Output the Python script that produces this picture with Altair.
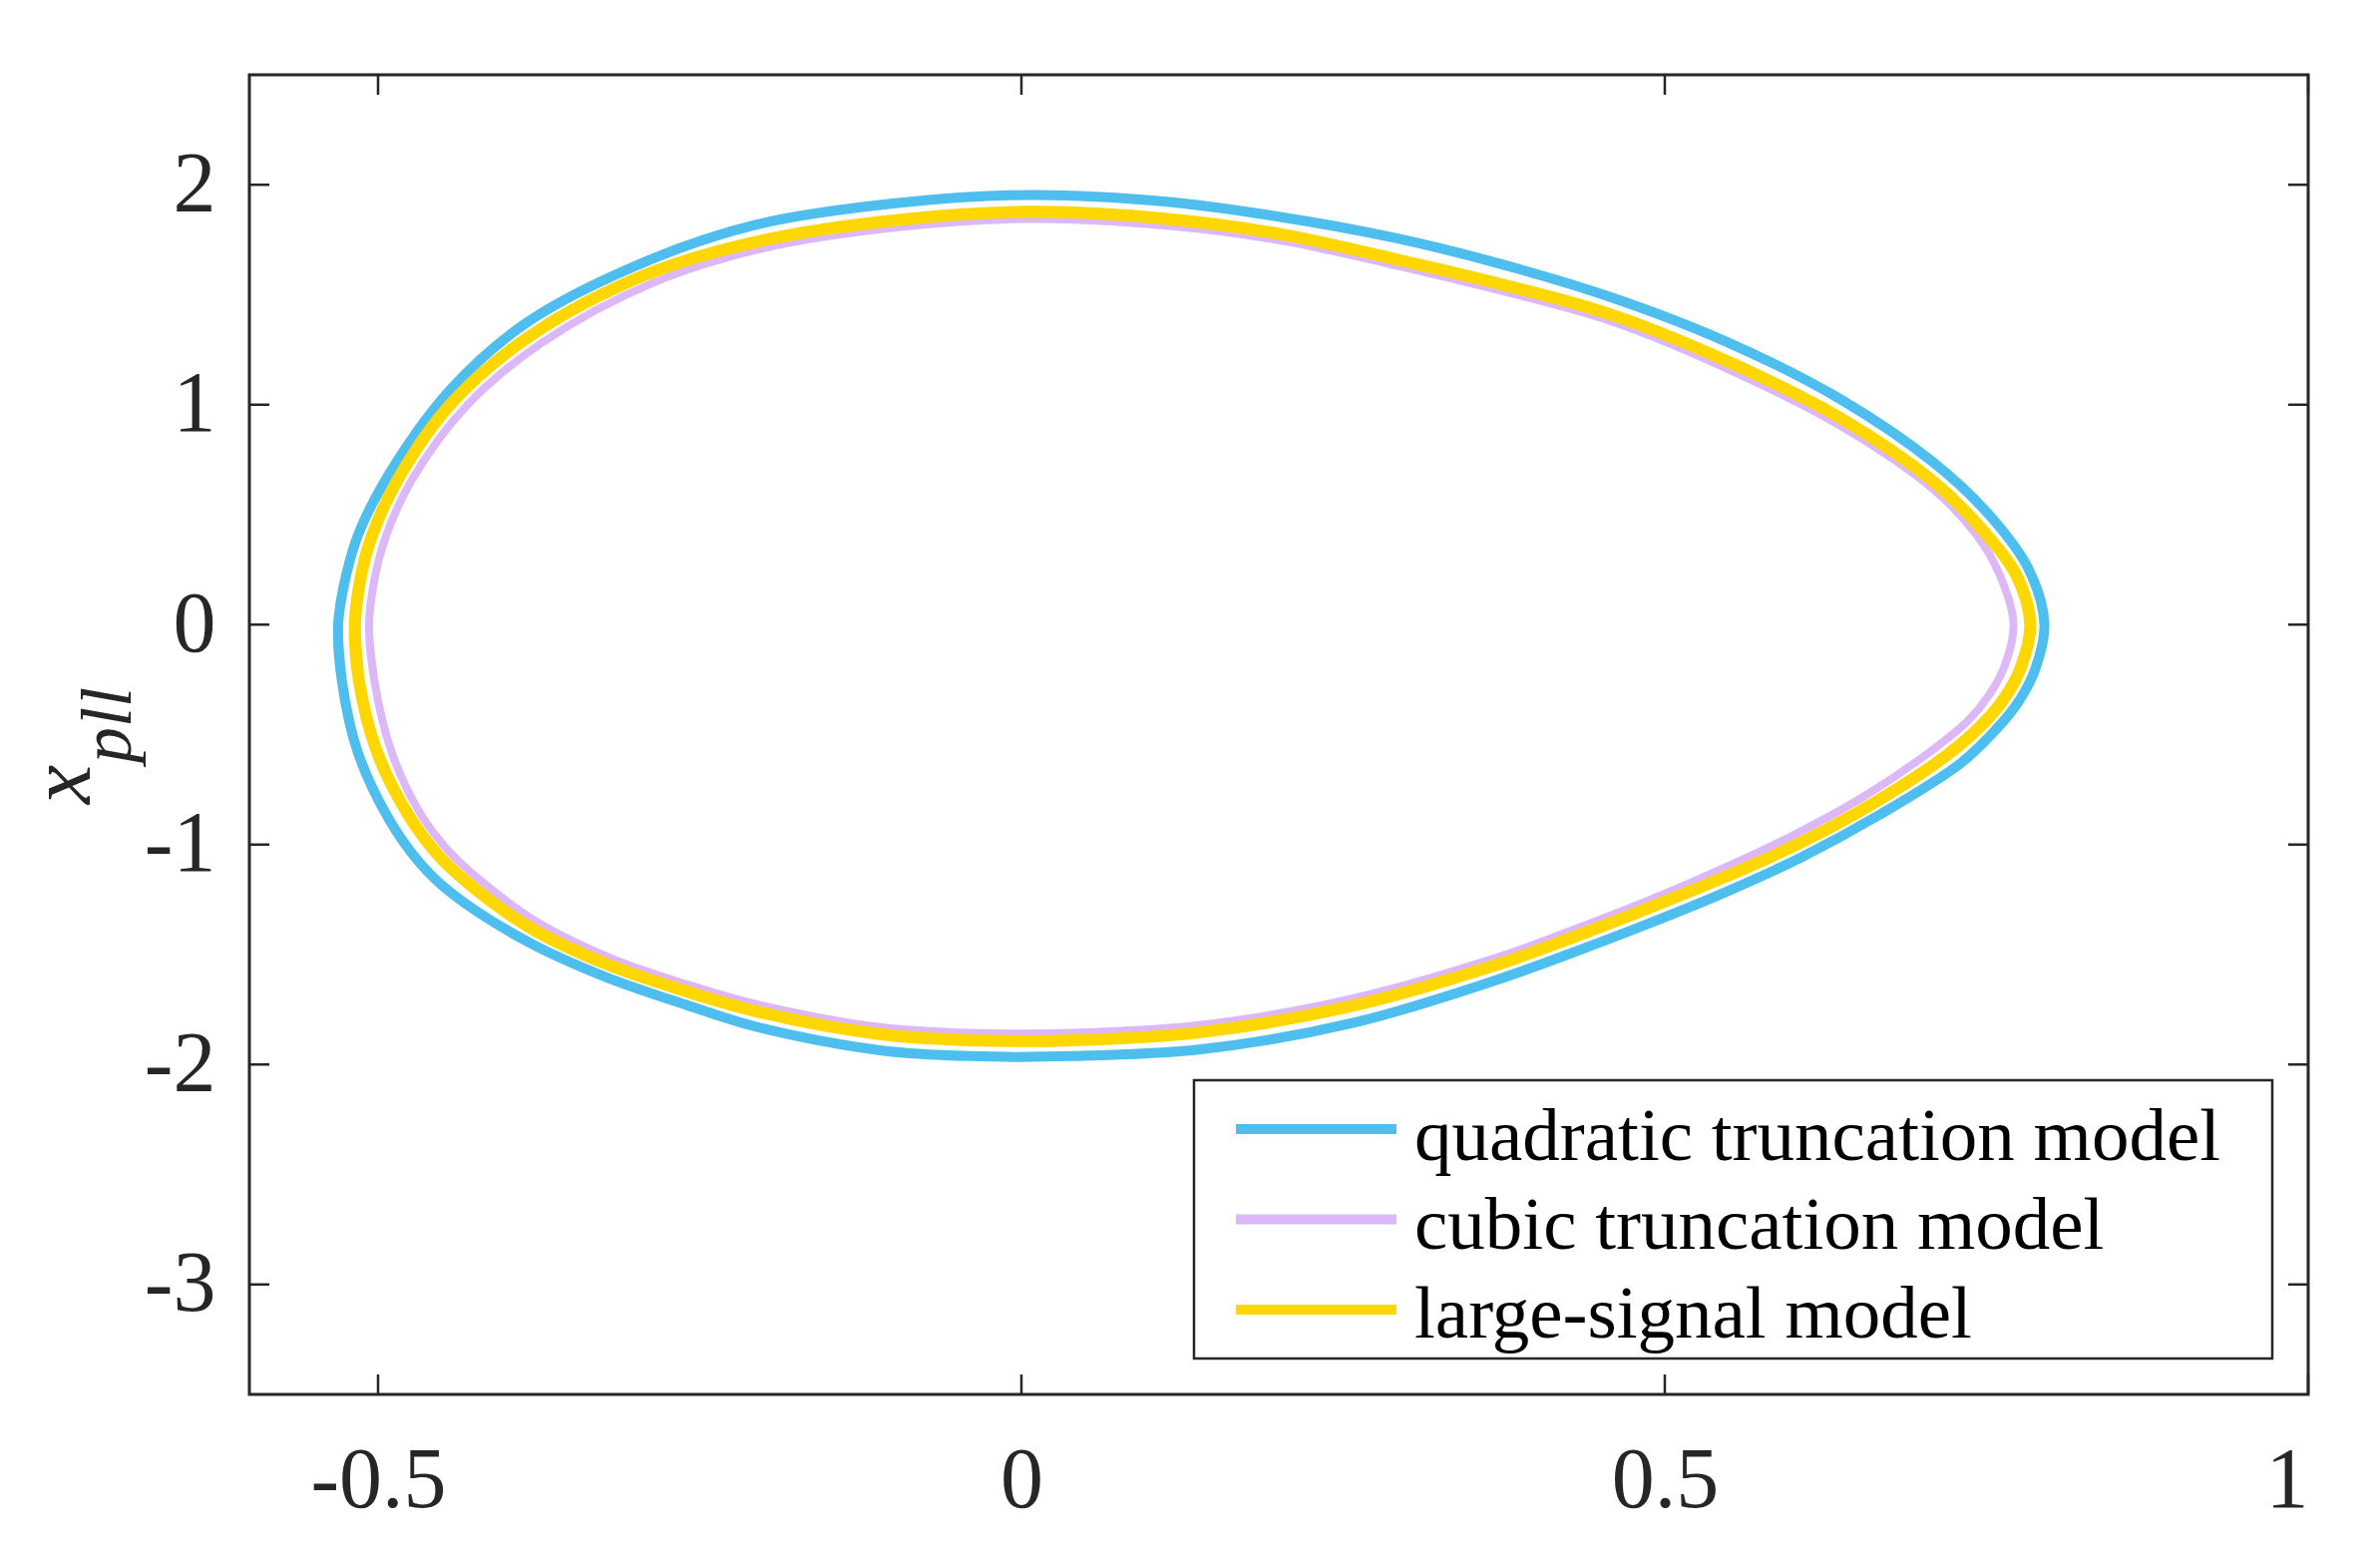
import altair as alt
import pandas as pd

# ---- data (closed loops, clockwise from the left end) ----
quad_x = [-0.531, -0.525, -0.514, -0.486, -0.442, -0.383, -0.294, -0.205, -0.096, 0.008,
          0.111, 0.200, 0.289, 0.368, 0.457, 0.546, 0.635, 0.709, 0.753, 0.783,
          0.795, 0.788, 0.776, 0.760, 0.730, 0.665, 0.605, 0.546, 0.487, 0.428, 0.368,
          0.259, 0.141, 0.040, -0.040, -0.110, -0.205, -0.264, -0.324, -0.383, -0.442,
          -0.468, -0.492, -0.516, -0.528]
quad_y = [0.000, 0.220, 0.430, 0.736, 1.080, 1.379, 1.646, 1.820, 1.917, 1.954,
          1.924, 1.855, 1.760, 1.647, 1.491, 1.291, 1.030, 0.736, 0.493, 0.249,
          0.000, -0.200, -0.340, -0.460, -0.630, -0.871, -1.061, -1.219, -1.360, -1.492, -1.618,
          -1.809, -1.930, -1.962, -1.962, -1.935, -1.830, -1.722, -1.600, -1.444, -1.225,
          -1.080, -0.880, -0.576, -0.260]

cubic_x = [-0.507, -0.503, -0.494, -0.474, -0.432, -0.373, -0.286, -0.200, -0.094, 0.008,
           0.111, 0.200, 0.289, 0.368, 0.457, 0.546, 0.635, 0.709, 0.742, 0.760,
           0.771, 0.764, 0.752, 0.736, 0.708, 0.655, 0.597, 0.540, 0.483, 0.425, 0.365,
           0.257, 0.140, 0.040, -0.040, -0.110, -0.203, -0.262, -0.321, -0.378, -0.420,
           -0.445, -0.468, -0.490, -0.503]
cubic_y = [0.000, 0.200, 0.400, 0.655, 0.990, 1.280, 1.555, 1.712, 1.808, 1.845,
           1.815, 1.748, 1.636, 1.525, 1.382, 1.170, 0.909, 0.614, 0.410, 0.230,
           0.000, -0.190, -0.320, -0.435, -0.570, -0.780, -0.966, -1.122, -1.264, -1.396, -1.522,
           -1.700, -1.820, -1.856, -1.856, -1.830, -1.730, -1.632, -1.512, -1.347, -1.165,
           -1.030, -0.850, -0.570, -0.250]

large_x = [-0.518, -0.514, -0.505, -0.484, -0.442, -0.383, -0.294, -0.205, -0.096, 0.008,
           0.111, 0.200, 0.289, 0.368, 0.457, 0.546, 0.635, 0.709, 0.748, 0.774,
           0.784, 0.777, 0.765, 0.749, 0.720, 0.665, 0.605, 0.546, 0.487, 0.428, 0.368,
           0.259, 0.141, 0.040, -0.040, -0.110, -0.205, -0.264, -0.324, -0.383, -0.427,
           -0.453, -0.477, -0.501, -0.515]
large_y = [0.000, 0.200, 0.400, 0.667, 1.013, 1.308, 1.586, 1.742, 1.840, 1.877,
           1.846, 1.777, 1.664, 1.555, 1.412, 1.204, 0.944, 0.649, 0.423, 0.215,
           0.000, -0.190, -0.325, -0.440, -0.590, -0.802, -0.993, -1.149, -1.290, -1.423, -1.549,
           -1.731, -1.852, -1.890, -1.890, -1.862, -1.760, -1.661, -1.540, -1.374, -1.190,
           -1.050, -0.860, -0.576, -0.250]

model_names = ["quadratic truncation model", "cubic truncation model", "large-signal model"]
x_ticks = [-0.5, 0, 0.5, 1]
y_ticks = [-3, -2, -1, 0, 1, 2]

# ---- styling ----
colors = ["#4DBEEE", "#DDB8F9", "#FFD700"]
widths = [10, 8, 12]
FONT = "Liberation Serif"
INK = "#262626"
W, H = 2064, 1323
TICK = 20

xscale = alt.Scale(domain=[-0.6, 1], nice=False, zero=False)
yscale = alt.Scale(domain=[-3.5, 2.5], nice=False, zero=False)
xaxis = alt.Axis(values=x_ticks, labelExpr="datum.value + ''", labelPadding=44,
                 labelFontSize=86, labelFont=FONT, labelColor=INK, ticks=False,
                 tickSize=0, domain=False, grid=False, title=None)
yaxis = alt.Axis(values=y_ticks, labelExpr="datum.value + ''", labelPadding=34,
                 labelFontSize=86, labelFont=FONT, labelColor=INK, ticks=False,
                 tickSize=0, domain=False, grid=False, title=None)
color_scale = alt.Scale(domain=model_names, range=colors)


def curve(xs, ys, name, width):
    # walk the closed loop with one point of overlap on each side so the
    # spline joins smoothly where it starts and ends
    n = len(xs)
    idx = [n - 1] + list(range(n)) + [0, 1]
    df = pd.DataFrame({"x": [xs[i] for i in idx], "y": [ys[i] for i in idx], "model": name})
    df["order"] = range(len(df))
    return alt.Chart(df).mark_line(strokeWidth=width, interpolate="catmull-rom").encode(
        x=alt.X("x:Q", scale=xscale, axis=xaxis),
        y=alt.Y("y:Q", scale=yscale, axis=yaxis),
        order="order:Q",
        color=alt.Color("model:N", scale=color_scale, legend=None),
    )


layers = [
    curve(quad_x, quad_y, model_names[0], widths[0]),
    curve(cubic_x, cubic_y, model_names[1], widths[1]),
    curve(large_x, large_y, model_names[2], widths[2]),
]

# inward ticks on all four sides
xt = pd.DataFrame({"v": x_ticks})
yt = pd.DataFrame({"v": y_ticks})
rule_style = dict(color=INK, strokeWidth=2.5)
layers += [
    alt.Chart(xt).mark_rule(**rule_style).encode(
        x=alt.X("v:Q", scale=xscale, axis=xaxis), y=alt.value(H), y2=alt.value(H - TICK)),
    alt.Chart(xt).mark_rule(**rule_style).encode(
        x=alt.X("v:Q", scale=xscale, axis=xaxis), y=alt.value(0), y2=alt.value(TICK)),
    alt.Chart(yt).mark_rule(**rule_style).encode(
        y=alt.Y("v:Q", scale=yscale, axis=yaxis), x=alt.value(0), x2=alt.value(TICK)),
    alt.Chart(yt).mark_rule(**rule_style).encode(
        y=alt.Y("v:Q", scale=yscale, axis=yaxis), x=alt.value(W), x2=alt.value(W - TICK)),
]

# legend box
box = alt.Chart(pd.DataFrame({"k": [0]})).mark_rect(
    fill="white", stroke=INK, strokeWidth=2.5).encode(
    x=alt.value(947), x2=alt.value(2028), y=alt.value(1008), y2=alt.value(1287))

leg_df = pd.DataFrame({"model": model_names, "row": [0, 1, 2]})
leg_base = alt.Chart(leg_df).transform_calculate(
    ly="1057 + 90.5 * datum.row", ty="1088 + 89 * datum.row")
leg_lines = leg_base.mark_rule(strokeWidth=10).encode(
    x=alt.value(989), x2=alt.value(1150), y=alt.Y("ly:Q", scale=None),
    color=alt.Color("model:N", scale=color_scale, legend=None))
leg_text = leg_base.mark_text(align="left", baseline="alphabetic", font=FONT,
                              fontSize=75, color="black").encode(
    x=alt.value(1168), y=alt.Y("ty:Q", scale=None), text="model:N")

# y-axis title: x with subscript pll
t_main = alt.Chart(pd.DataFrame({"t": ["x"]})).mark_text(
    angle=270, align="left", baseline="alphabetic", font=FONT, fontStyle="italic",
    fontSize=88, color=INK).encode(x=alt.value(-160), y=alt.value(731), text="t:N")
t_sub = alt.Chart(pd.DataFrame({"t": ["pll"]})).mark_text(
    angle=270, align="left", baseline="alphabetic", font=FONT, fontStyle="italic",
    fontSize=72, color=INK).encode(x=alt.value(-119), y=alt.value(690), text="t:N")

chart = alt.layer(*layers, box, leg_lines, leg_text, t_main, t_sub).properties(
    width=W, height=H,
    autosize=alt.AutoSizeParams(type="none"),
    padding={"left": 242, "top": 67, "right": 60, "bottom": 140},
    background="white",
).configure_view(stroke=INK, strokeWidth=3)

chart.save("out.html", embed_options={"renderer": "svg", "actions": False})
